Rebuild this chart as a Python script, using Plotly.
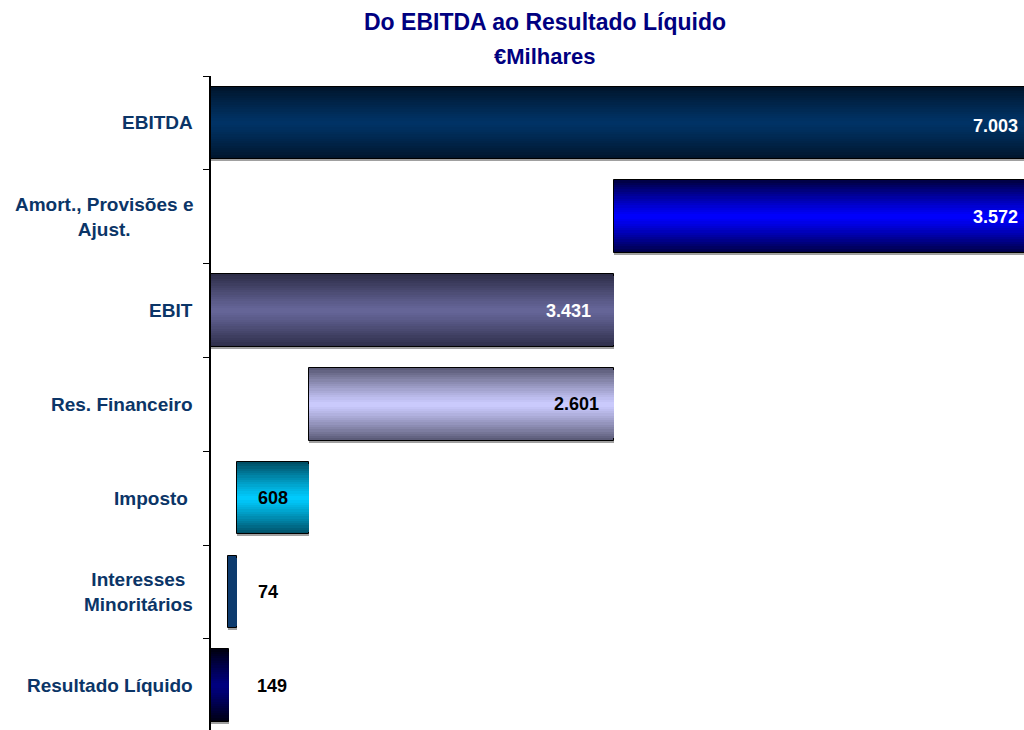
import plotly.graph_objects as go

# ---------------- data ----------------
categories = ["EBITDA", "Amort., Provisões e Ajust.", "EBIT", "Res. Financeiro",
              "Imposto", "Interesses Minoritários", "Resultado Líquido"]
display_labels = ["EBITDA", "Amort., Provisões e<br>Ajust.", "EBIT", "Res. Financeiro",
                  "Imposto\u00a0", "Interesses<br>Minoritários", "Resultado Líquido"]
values = [7003, 3572, 3431, 2601, 608, 74, 149]
bases = [0, 3431, 0, 830, 222, 148, 0]

title_line1 = "Do EBITDA ao Resultado Líquido"
title_line2 = "€Milhares"

# ---------------- style ----------------
FIG_W, FIG_H = 1024, 730
M_L, M_T = 211, 76
PLOT_W = FIG_W - M_L
PLOT_H = FIG_H - M_T
CAT_PX = 93.8
X_MAX = 6920
BAR_W = 0.775
N_LAYERS = 16
FONT = "Liberation Sans, Arial, sans-serif"

edge_colors = ["#00142a", "#000040", "#2c2c46", "#585874", "#004a60", "#0d3b6e", "#00000f"]
center_colors = ["#003366", "#0000ff", "#666699", "#ccccff", "#00ccff", "#0d3b6e", "#000080"]

label_pos = ["end", "end", "end", "end", "center", "outside", "outside"]
label_shift = [-4, -4, -21, -13, 0, 19, 26]
label_yshift = [-3, 0, 0, 0, 0, 0, 0]
label_colors = ["white", "white", "white", "black", "black", "black", "black"]


def hex2rgb(h):
    h = h.lstrip("#")
    return tuple(int(h[i:i + 2], 16) for i in (0, 2, 4))


def lerp(c1, c2, t):
    a, b = hex2rgb(c1), hex2rgb(c2)
    return "rgb(%d,%d,%d)" % tuple(round(a[i] + (b[i] - a[i]) * t) for i in range(3))


def fmt(v):
    return f"{v:,}".replace(",", ".")


fig = go.Figure()

# shadow
fig.add_trace(go.Bar(
    y=categories, x=values, base=bases, orientation="h",
    width=BAR_W, offset=-BAR_W / 2 + 2.0 / CAT_PX,
    marker=dict(color="#a0a0a0", line=dict(width=0)),
    hoverinfo="skip", showlegend=False,
))

# gradient layers (outer -> inner)
for k in range(N_LAYERS):
    frac = 1 - k / N_LAYERS
    t = 1 - (k + 0.5) / N_LAYERS  # distance from center
    cols = [lerp(c, e, t ** 1.15) for c, e in zip(center_colors, edge_colors)]
    fig.add_trace(go.Bar(
        y=categories, x=values, base=bases, orientation="h",
        width=BAR_W * frac,
        marker=dict(color=cols,
                    line=dict(width=1 if k == 0 else 0, color="#000000")),
        hoverinfo="skip", showlegend=False,
    ))

annotations = []
# category labels
for cat, lab in zip(categories, display_labels):
    annotations.append(dict(
        x=0, xref="paper", y=cat, yref="y", xanchor="right", yanchor="middle",
        xshift=-16, align="center", showarrow=False,
        text="<b>%s</b>" % lab,
        font=dict(family=FONT, size=19, color="#0b3567"),
    ))

# value labels
for i, cat in enumerate(categories):
    end = bases[i] + values[i]
    if label_pos[i] == "end":
        x, anchor = min(end, X_MAX), "right"
    elif label_pos[i] == "center":
        x, anchor = bases[i] + values[i] / 2, "center"
    else:
        x, anchor = end, "left"
    annotations.append(dict(
        x=x, xref="x", y=cat, yref="y", xanchor=anchor, yanchor="middle",
        xshift=label_shift[i], yshift=label_yshift[i], showarrow=False,
        text="<b>%s</b>" % fmt(values[i]),
        font=dict(family=FONT, size=18, color=label_colors[i]),
    ))

# titles (page coords: plot area top at y=76, left at x=211)
title_x = (545 - M_L) / PLOT_W
annotations.append(dict(
    x=title_x, xref="paper", y=1 + (M_T - 22) / PLOT_H, yref="paper",
    xanchor="center", yanchor="middle", showarrow=False,
    text="<b>%s</b>" % title_line1,
    font=dict(family=FONT, size=23, color="#000080"),
))
annotations.append(dict(
    x=title_x, xref="paper", y=1 + (M_T - 57) / PLOT_H, yref="paper",
    xanchor="center", yanchor="middle", showarrow=False,
    text="<b>%s</b>" % title_line2,
    font=dict(family=FONT, size=22, color="#000080"),
))

fig.update_layout(
    width=FIG_W, height=FIG_H,
    margin=dict(l=M_L, r=0, t=M_T, b=0, pad=0),
    paper_bgcolor="white", plot_bgcolor="white",
    barmode="overlay", bargap=0,
    showlegend=False,
    annotations=annotations,
    xaxis=dict(range=[0, X_MAX], visible=False, showgrid=False, zeroline=False),
    yaxis=dict(type="category", categoryorder="array", categoryarray=categories,
               range=[PLOT_H / CAT_PX - 0.5, -0.5], showline=True, linecolor="black",
               linewidth=2, ticks="outside", tickson="boundaries", ticklen=6,
               tickcolor="black", tickwidth=1, showticklabels=False,
               showgrid=False, zeroline=False),
)

fig.write_html("out.html",
               config={"displayModeBar": False},
               post_script="document.body.style.margin='0';document.body.style.overflow='hidden';")
